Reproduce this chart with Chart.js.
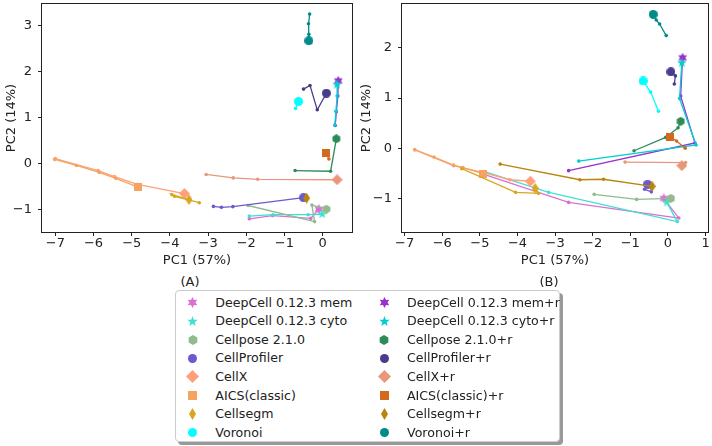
<!DOCTYPE html>
<html>
<head>
<meta charset="utf-8">
<script src="https://cdn.jsdelivr.net/npm/chart.js@4"></script>
<style>
body { margin: 0; background: #fff; font-family: 'DejaVu Sans', sans-serif; }
#wrap { position: relative; width: 712px; height: 446px; overflow: hidden; }
canvas.ch { position: absolute; top: 0; }
.lbl { position: absolute; font-size: 13px; color: #222; transform: translate(-50%, -50%); white-space: nowrap; }
#legend { position: absolute; left: 175px; top: 290px; width: 383px; height: 150px; border: 1px solid #ccc; border-radius: 4px; box-shadow: 3px 3px 0 #999; background: #fff; }
.item { position: absolute; font-size: 12.6px; line-height: 16px; white-space: nowrap; color: #222; }
.mk { position: absolute; width: 16px; height: 16px; display: flex; align-items: center; justify-content: center; }
</style>
</head>
<body>
<div id="wrap">
  <canvas id="chartA" class="ch" style="left:0" width="356" height="268"></canvas>
  <canvas id="chartB" class="ch" style="left:355px" width="357" height="268"></canvas>
  <div class="lbl" style="left:190px;top:281px">(A)</div>
  <div class="lbl" style="left:549px;top:281px">(B)</div>
  <div id="legend"></div>
</div>
<script>
// Methods
const names = ["DeepCell 0.12.3 mem", "DeepCell 0.12.3 cyto", "Cellpose 2.1.0", "CellProfiler", "CellX",
  "AICS(classic)", "Cellsegm", "Voronoi",
  "DeepCell 0.12.3 mem+r", "DeepCell 0.12.3 cyto+r", "Cellpose 2.1.0+r", "CellProfiler+r", "CellX+r",
  "AICS(classic)+r", "Cellsegm+r", "Voronoi+r"];
const colors = ["#da70d6", "#40e0d0", "#8fbc8f", "#6a5acd", "#ffa07a", "#f4a460", "#daa520", "#00ffff",
  "#9932cc", "#00ced1", "#2e8b57", "#483d8b", "#e9967a", "#d2691e", "#b8860b", "#008b8b"];
const shapes = ["star6", "star5", "hex", "circle", "diamond", "square", "thin", "circle",
  "star6", "star5", "hex", "circle", "diamond", "square", "thin", "circle"];

// Tick labels
const xTicksA = [-7, -6, -5, -4, -3, -2, -1, 0];
const yTicksA = [-1, 0, 1, 2, 3];
const xTicksB = [-7, -6, -5, -4, -3, -2, -1, 0, 1];
const yTicksB = [-1, 0, 1, 2];

// Panel A  (first point = big marker)
const aMem = [[-0.10, -0.99], [-0.31, -1.19], [-1.31, -1.13], [-1.92, -1.20]];
const aCyto = [[-0.01, -1.10], [-0.38, -1.11], [-1.30, -1.11], [-1.92, -1.14]];
const aCellpose = [[0.10, -0.99], [-0.28, -0.90], [-0.21, -1.26], [-1.95, -0.91]];
const aCellProfiler = [[-0.50, -0.74], [-2.35, -0.935], [-2.65, -0.95], [-2.86, -0.93]];
const aCellX = [[-3.62, -0.65], [-4.85, -0.45], [-5.45, -0.28], [-5.88, -0.15], [-7.00, 0.11]];
const aAics = [[-4.83, -0.51], [-5.42, -0.32], [-5.85, -0.19], [-6.45, -0.04], [-7.02, 0.09]];
const aCellsegm = [[-3.50, -0.78], [-3.95, -0.67], [-3.88, -0.71], [-3.23, -0.85]];
const aVoronoi = [[-0.63, 1.35], [-0.71, 1.20]];
const aMemR = [[0.41, 1.80], [0.40, 1.47], [0.36, 1.13], [0.33, 0.83]];
const aCytoR = [[0.38, 1.72], [0.38, 1.47], [0.35, 1.14], [0.32, 0.84]];
const aCellposeR = [[0.36, 0.54], [0.21, -0.165], [-0.72, -0.15]];
const aCellProfilerR = [[0.10, 1.53], [-0.14, 1.17], [-0.33, 1.70], [-0.50, 1.62]];
const aCellXR = [[0.38, -0.35], [-1.70, -0.34], [-2.34, -0.31], [-3.05, -0.235]];
const aAicsR = [[0.08, 0.23], [0.165, 0.10]];
const aCellsegmR = [[-0.42, -0.75]];
const aVoronoiR = [[-0.36, 2.67], [-0.36, 2.81], [-0.37, 3.04], [-0.34, 3.25]];

// Panel B
const bMem = [[-0.11, -0.99], [0.29, -1.38], [-2.64, -1.07], [-4.95, -0.50]];
const bCyto = [[-0.03, -1.07], [0.25, -1.45], [-3.17, -0.87], [-4.87, -0.46]];
const bCellpose = [[0.08, -0.99], [-0.83, -1.01], [-1.96, -0.91]];
const bCellProfiler = [[-0.54, -0.71], [-0.62, -0.81], [-0.44, -0.86], [-0.45, -0.77]];
const bCellX = [[-3.66, -0.65], [-4.20, -0.62], [-4.90, -0.48], [-5.70, -0.34], [-6.73, -0.03]];
const bAics = [[-4.91, -0.50], [-5.45, -0.38], [-5.70, -0.33], [-6.22, -0.17], [-6.73, -0.02]];
const bCellsegm = [[-3.53, -0.79], [-3.44, -0.89], [-4.05, -0.87], [-5.48, -0.40]];
const bVoronoi = [[-0.66, 1.34], [-0.46, 1.12], [-0.25, 0.74]];
const bMemR = [[0.39, 1.80], [0.34, 1.04], [0.72, 0.11], [-2.64, -0.44]];
const bCytoR = [[0.37, 1.70], [0.31, 0.99], [0.75, 0.07], [-2.37, -0.25]];
const bCellposeR = [[0.34, 0.54], [0.27, 0.41], [-0.06, 0.22], [-0.90, -0.045]];
const bCellProfilerR = [[0.08, 1.52], [0.20, 1.44], [0.17, 1.28]];
const bCellXR = [[0.37, -0.34], [0.43, -0.31], [0.47, -0.28], [-1.14, -0.27]];
const bAicsR = [[0.05, 0.23], [0.23, 0.15], [0.46, 0.006]];
const bCellsegmR = [[-0.42, -0.75], [-1.71, -0.61], [-2.34, -0.62], [-4.46, -0.31]];
const bVoronoiR = [[-0.39, 2.66], [-0.31, 2.55], [-0.22, 2.47], [-0.045, 2.24]];

const panelA = [aMem, aCyto, aCellpose, aCellProfiler, aCellX, aAics, aCellsegm, aVoronoi,
  aMemR, aCytoR, aCellposeR, aCellProfilerR, aCellXR, aAicsR, aCellsegmR, aVoronoiR];
const panelB = [bMem, bCyto, bCellpose, bCellProfiler, bCellX, bAics, bCellsegm, bVoronoi,
  bMemR, bCytoR, bCellposeR, bCellProfilerR, bCellXR, bAicsR, bCellsegmR, bVoronoiR];

// Marker images
const chartSize = { star6: 10, star5: 10, hex: 9, circle: 9, diamond: 11, square: 8, thin: 11 };
const legendSize = { star6: 11, star5: 11, hex: 10, circle: 9, diamond: 13, square: 9, thin: 12 };

function makeMarker(shape, color, size) {
  const c = document.createElement("canvas");
  c.width = shape === "thin" ? Math.round(size * 0.62) : size;
  c.height = size;
  const g = c.getContext("2d");
  const cx = c.width / 2, cy = c.height / 2, r = size / 2;
  g.fillStyle = color;
  g.beginPath();
  if (shape === "circle") {
    g.arc(cx, cy, r, 0, Math.PI * 2);
  } else if (shape === "square") {
    g.rect(0, 0, size, size);
  } else if (shape === "diamond") {
    g.moveTo(cx, 0); g.lineTo(size, cy); g.lineTo(cx, size); g.lineTo(0, cy);
  } else if (shape === "thin") {
    g.moveTo(cx, 0); g.lineTo(c.width, cy); g.lineTo(cx, size); g.lineTo(0, cy);
  } else if (shape === "hex") {
    for (let k = 0; k < 6; k++) {
      const a = -Math.PI / 2 + k * Math.PI / 3;
      g.lineTo(cx + r * Math.cos(a), cy + r * Math.sin(a));
    }
  } else {
    const n = shape === "star6" ? 6 : 5;
    const inner = shape === "star6" ? 0.55 : 0.42;
    for (let k = 0; k < n * 2; k++) {
      const a = -Math.PI / 2 + k * Math.PI / n;
      const rr = k % 2 ? r * inner : r;
      g.lineTo(cx + rr * Math.cos(a), cy + rr * Math.sin(a));
    }
  }
  g.closePath();
  g.fill();
  return c;
}

const bigMarks = shapes.map((s, i) => makeMarker(s, colors[i], chartSize[s]));

function fmt(v) {
  return v < 0 ? "\u2212" + Math.abs(v) : String(v);
}

const frame = {
  id: "frame",
  afterDatasetsDraw(chart) {
    const a = chart.chartArea, g = chart.ctx;
    g.save();
    g.strokeStyle = "#222";
    g.lineWidth = 1;
    g.strokeRect(Math.round(a.left) - 0.5, Math.round(a.top) - 0.5,
      Math.round(a.right) - Math.round(a.left) + 1, Math.round(a.bottom) - Math.round(a.top) + 1);
    g.restore();
  }
};

const font = { family: "'DejaVu Sans', sans-serif", size: 13 };

function buildChart(id, series, xRange, yRange, xTicks, yTicks, yWidth, rightPad) {
  const datasets = series.map((pts, i) => ({
    label: names[i],
    data: pts.map(p => ({ x: p[0], y: p[1] })),
    showLine: true,
    borderColor: colors[i],
    backgroundColor: colors[i],
    borderWidth: 1.3,
    pointStyle: c => c.dataIndex === 0 ? bigMarks[i] : "circle",
    pointRadius: c => c.dataIndex === 0 ? 4 : 1.8,
    pointBorderWidth: 0,
    order: series.length - i
  }));

  return new Chart(document.getElementById(id), {
    type: "scatter",
    data: { datasets },
    plugins: [frame],
    options: {
      responsive: false,
      animation: false,
      layout: { padding: { top: 1, right: rightPad, left: 0, bottom: 0 } },
      plugins: { legend: { display: false }, tooltip: { enabled: false } },
      scales: {
        x: {
          type: "linear", min: xRange[0], max: xRange[1],
          afterBuildTicks: s => { s.ticks = xTicks.map(v => ({ value: v })); },
          afterFit: s => { s.height = 36; s.paddingLeft = 0; s.paddingRight = 0; },
          ticks: { callback: fmt, font, color: "#222", padding: 0, maxRotation: 0, autoSkip: false },
          grid: { drawOnChartArea: false, tickLength: 4, tickColor: "#222" },
          border: { display: false },
          title: { display: true, text: "PC1 (57%)", font, color: "#222", padding: { top: 0, bottom: 0 } }
        },
        y: {
          type: "linear", min: yRange[0], max: yRange[1],
          afterBuildTicks: s => { s.ticks = yTicks.map(v => ({ value: v })); },
          afterFit: s => { s.width = yWidth; s.paddingTop = 0; s.paddingBottom = 0; },
          ticks: { callback: fmt, font, color: "#222", padding: 6, autoSkip: false },
          grid: { drawOnChartArea: false, tickLength: 4, tickColor: "#222" },
          border: { display: false },
          title: { display: true, text: "PC2 (14%)", font, color: "#222", padding: { top: 4, bottom: 0 } }
        }
      }
    }
  });
}

buildChart("chartA", panelA, [-7.35, 0.77], [-1.486, 3.47], xTicksA, yTicksA, 42, 4);
buildChart("chartB", panelB, [-7.07, 1.066], [-1.657, 2.867], xTicksB, yTicksB, 47, 3);

// Legend
const legend = document.getElementById("legend");
names.forEach((n, i) => {
  const col = Math.floor(i / 8), row = i % 8;
  const cy = 11.7 + row * 18.57;
  const mk = document.createElement("div");
  mk.className = "mk";
  mk.style.left = (col ? 208.3 : 16.7) - 8 + "px";
  mk.style.top = cy - 8 + "px";
  mk.appendChild(makeMarker(shapes[i], colors[i], legendSize[shapes[i]]));
  legend.appendChild(mk);
  const t = document.createElement("div");
  t.className = "item";
  t.textContent = n;
  t.style.left = (col ? 231 : 39.3) + "px";
  t.style.top = cy - 8 + "px";
  legend.appendChild(t);
});
</script>
</body>
</html>
